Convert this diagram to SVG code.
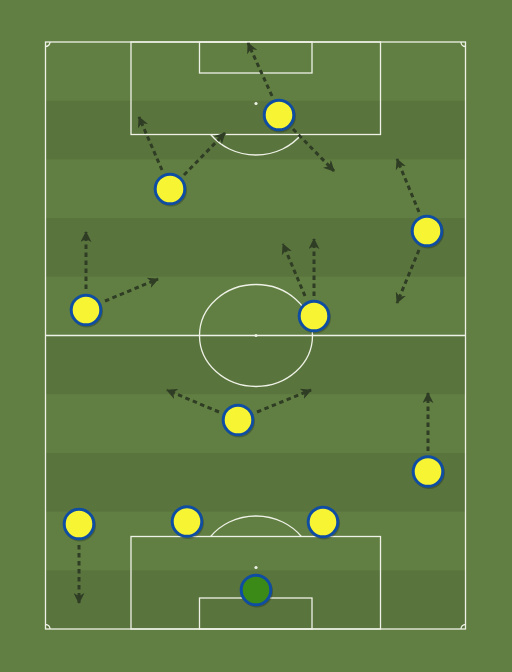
<svg xmlns="http://www.w3.org/2000/svg" width="512" height="672" viewBox="0 0 512 672">
<style>
.ln{fill:none;stroke:#eef2e6;stroke-width:1.3}
.pl{fill:#f7f533;stroke:#0f4da3;stroke-width:3}
.gk{fill:#3b8a17;stroke:#0f4da3;stroke-width:3}
.sh{fill:#000;opacity:0.22}
.ar{fill:none;stroke:#2f3d24;stroke-width:3;stroke-dasharray:4.5 3.5;marker-end:url(#ah)}
</style>
<defs>
<marker id="ah" markerUnits="userSpaceOnUse" markerWidth="11" markerHeight="11" refX="11" refY="6" orient="auto" viewBox="0 0 12 12">
<path d="M0,0 L12,6 L0,12 L3.5,6 z" fill="#2f3d24"/>
</marker>
</defs>
<rect width="512" height="672" fill="#627f43"/>
<g id="pitch">
<g fill="#5a743e">
<rect x="46" y="100.7" width="420" height="58.7"/>
<rect x="46" y="218" width="420" height="58.7"/>
<rect x="46" y="335.5" width="420" height="58.7"/>
<rect x="46" y="453" width="420" height="58.7"/>
<rect x="46" y="570.3" width="420" height="58.7"/>
</g>
<rect class="ln" x="45.5" y="42" width="420" height="587"/>
<line class="ln" x1="45.5" y1="335.5" x2="465.5" y2="335.5"/>
<ellipse class="ln" cx="256" cy="335.5" rx="56.5" ry="51"/>
<circle cx="256" cy="335.5" r="1.5" fill="#eef2e6"/>
<rect class="ln" x="131" y="42" width="249.5" height="92.5"/>
<rect class="ln" x="199.5" y="42" width="112.5" height="31"/>
<circle cx="256" cy="103.5" r="1.6" fill="#eef2e6"/>
<path class="ln" d="M210.7,134.5 A56.5,51 0 0 0 301.3,134.5"/>
<rect class="ln" x="131" y="536.5" width="249.5" height="92.5"/>
<rect class="ln" x="199.5" y="598" width="112.5" height="31"/>
<circle cx="256" cy="567.5" r="1.6" fill="#eef2e6"/>
<path class="ln" d="M210.7,536.5 A56.5,51 0 0 1 301.3,536.5"/>
<path class="ln" d="M45.5,46.5 A4.5,4.5 0 0 0 50,42 M461,42 A4.5,4.5 0 0 0 465.5,46.5 M45.5,624.5 A4.5,4.5 0 0 1 50,629 M461,629 A4.5,4.5 0 0 1 465.5,624.5"/>
</g>
<g id="connectors">
<line class="ar" x1="272" y1="96" x2="248" y2="43"/>
<line class="ar" x1="293" y1="129" x2="334" y2="171"/>
<line class="ar" x1="162" y1="170" x2="139" y2="117"/>
<line class="ar" x1="184" y1="175" x2="225" y2="133"/>
<line class="ar" x1="419" y1="212" x2="397" y2="159"/>
<line class="ar" x1="419" y1="250" x2="397" y2="303"/>
<line class="ar" x1="86" y1="289" x2="86" y2="232"/>
<line class="ar" x1="105" y1="301" x2="158" y2="279"/>
<line class="ar" x1="314" y1="296" x2="314" y2="239"/>
<line class="ar" x1="305" y1="296" x2="283" y2="244"/>
<line class="ar" x1="219" y1="412" x2="167" y2="390"/>
<line class="ar" x1="257" y1="412" x2="311" y2="390"/>
<line class="ar" x1="428" y1="451" x2="428" y2="393"/>
<line class="ar" x1="79" y1="545" x2="79" y2="603"/>
</g>
<g id="p1"><circle class="sh" cx="280" cy="116.5" r="16"/><circle class="pl" cx="279" cy="115" r="14.8"/></g>
<g id="p2"><circle class="sh" cx="171" cy="190.5" r="16"/><circle class="pl" cx="170" cy="189" r="14.8"/></g>
<g id="p3"><circle class="sh" cx="428" cy="232.5" r="16"/><circle class="pl" cx="427" cy="231" r="14.8"/></g>
<g id="p4"><circle class="sh" cx="87" cy="311.5" r="16"/><circle class="pl" cx="86" cy="310" r="14.8"/></g>
<g id="p5"><circle class="sh" cx="315" cy="317.5" r="16"/><circle class="pl" cx="314" cy="316" r="14.8"/></g>
<g id="p6"><circle class="sh" cx="239" cy="421.5" r="16"/><circle class="pl" cx="238" cy="420" r="14.8"/></g>
<g id="p7"><circle class="sh" cx="429" cy="473" r="16"/><circle class="pl" cx="428" cy="471.5" r="14.8"/></g>
<g id="p8"><circle class="sh" cx="80" cy="525.5" r="16"/><circle class="pl" cx="79" cy="524" r="14.8"/></g>
<g id="p9"><circle class="sh" cx="188" cy="523" r="16"/><circle class="pl" cx="187" cy="521.5" r="14.8"/></g>
<g id="p10"><circle class="sh" cx="324" cy="523.5" r="16"/><circle class="pl" cx="323" cy="522" r="14.8"/></g>
<g id="gk"><circle class="sh" cx="257" cy="591.5" r="16"/><circle class="gk" cx="256" cy="590" r="14.8"/></g>
</svg>
